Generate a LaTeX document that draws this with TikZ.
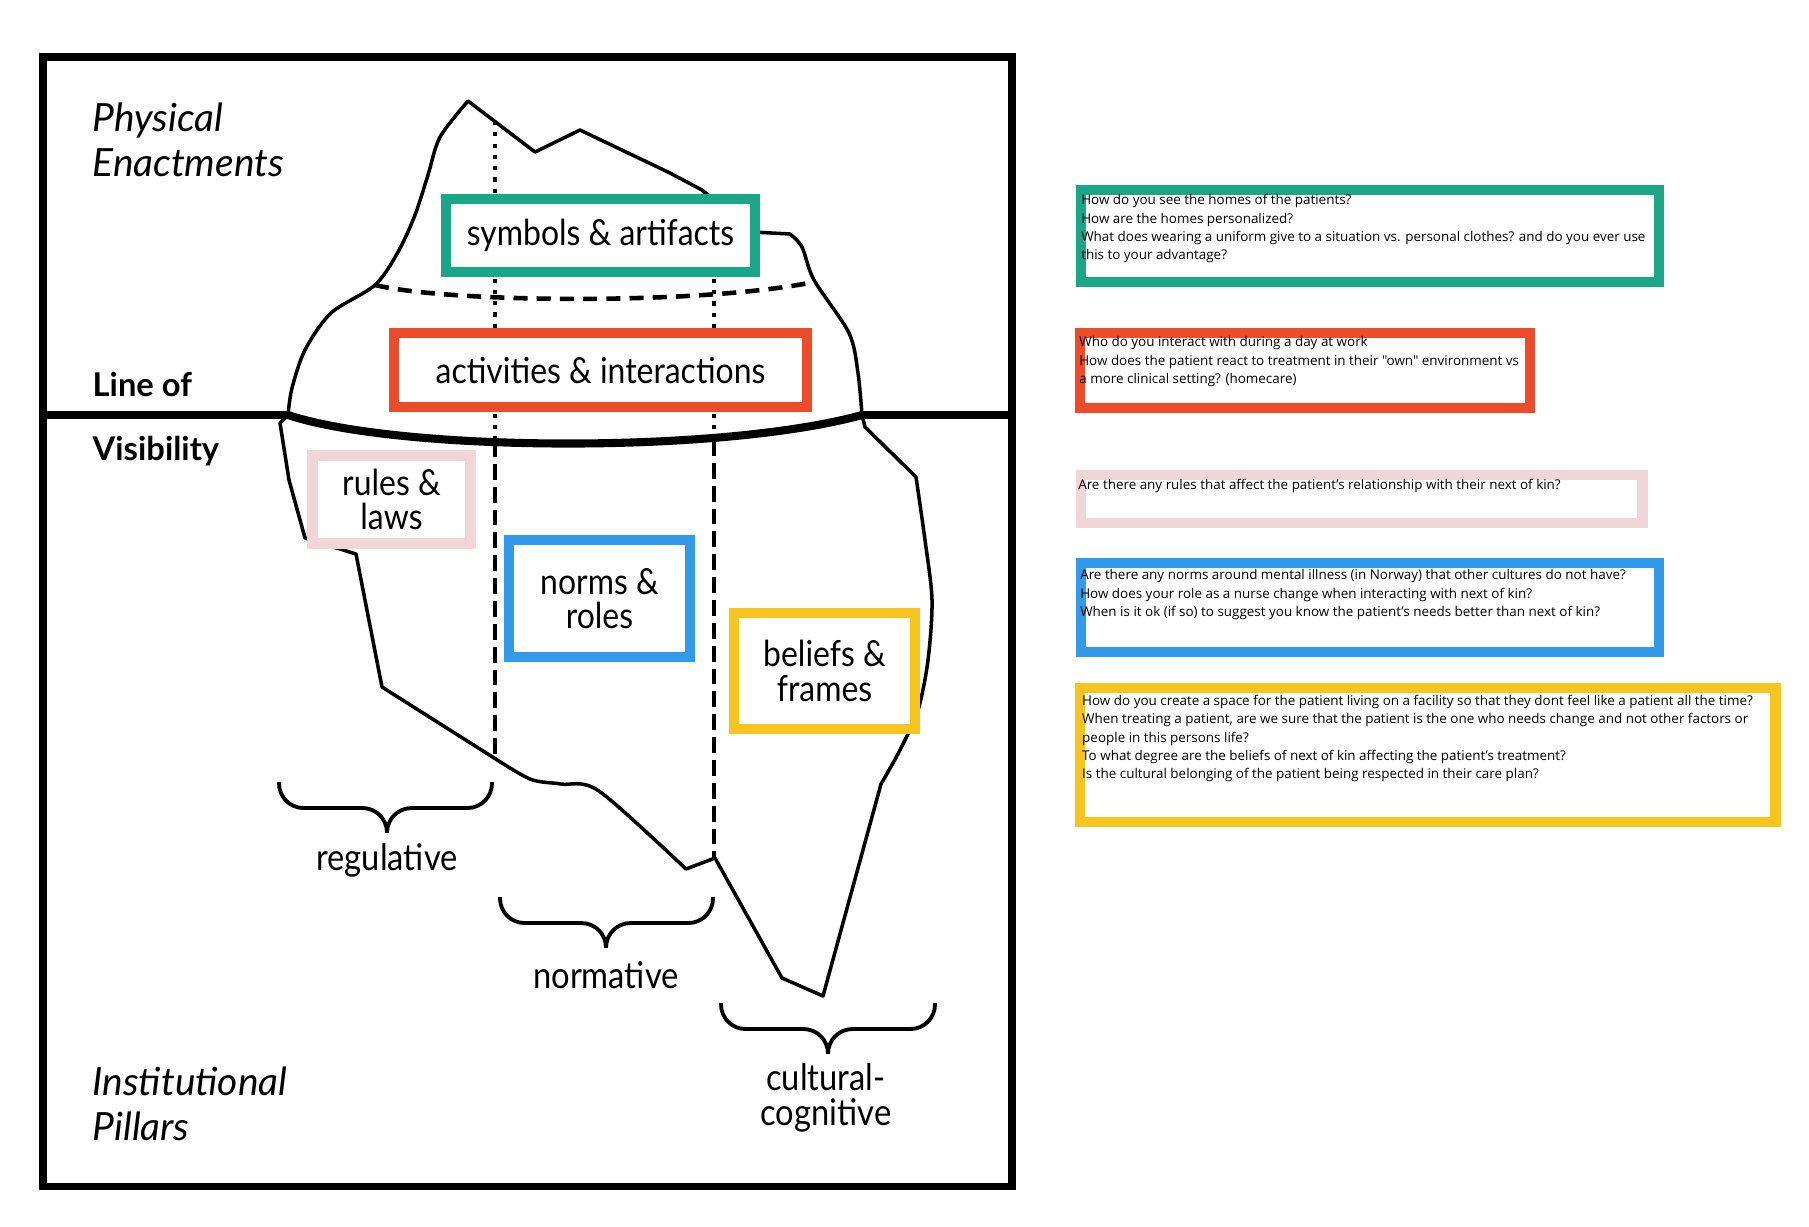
\documentclass[tikz,border=0pt]{standalone}
\usepackage{fontspec}
\usetikzlibrary{positioning}
\newfontfamily\diafont{Lato}
\newfontfamily\tagfont{Lato}[FakeStretch=0.89]
\newfontfamily\qfont{Open Sans}
\definecolor{symgreen}{RGB}{26,167,135}
\definecolor{actred}{RGB}{238,75,43}
\definecolor{rulepink}{RGB}{240,214,216}
\definecolor{normblue}{RGB}{49,154,234}
\definecolor{beliefyellow}{RGB}{248,196,30}

\begin{document}
\begin{tikzpicture}[x=0.01cm, y=-0.01cm,
  layer/.style={draw=#1, line width=3pt, fill=white, align=center, inner sep=0pt,
    font=\tagfont\fontsize{10.2}{9.8}\selectfont},
  qbox/.style={draw=#1, line width=3pt, inner sep=0pt},
  qtext/.style={anchor=north west, align=left, inner sep=0pt,
    font=\qfont\fontsize{3.82}{5.2}\selectfont},
  side/.style={anchor=west, align=left, inner sep=0pt,
    font=\diafont\itshape\fontsize{11.05}{12.8}\selectfont},
  pillar/.style={align=center, inner sep=0pt, font=\tagfont\fontsize{10.45}{9.9}\selectfont},
  bracket/.style={rounded corners=7pt, line width=1.1pt},
  outline/.style={line width=1pt, line join=round},
  dotline/.style={line width=1.2pt, dotted},
  dashline/.style={line width=1.3pt, dash pattern=on 4.5pt off 2pt}
]
\useasboundingbox (0,0) rectangle (1809,1226);

% frame and line of visibility
\draw[line width=2pt] (43,57) rectangle (1012,1186);
\draw[line width=2.3pt] (43,415) -- (288,415);
\draw[line width=2.3pt] (862,415) -- (1012,415);

% pillar dividers
\draw[dotline] (495,121) -- (495,441);
\draw[dashline] (495,441) -- (495,757);
\draw[dotline] (714,200) -- (714,440);
\draw[dashline] (714,440) -- (714,858);

% iceberg
\draw[outline] plot[smooth, tension=0.5] coordinates {(288,415) (292,388) (305,350) (331,313)
    (375,285) (398,252) (415,215) (428,175) (440,137) (468,101)}
  -- (535,152) -- (580,130) -- (670,173) -- (702,190) -- (753,232) -- (790,234)
  -- plot[smooth, tension=0.5] coordinates {(790,234) (802,247) (814,280) (849,333) (858,373) (862,415)};
\draw[outline] (862,415) -- (865,427) -- (916,477)
  -- plot[smooth, tension=0.5] coordinates {(916,477) (925,540) (932,600) (928,660) (918,710) (900,750) (881,784)}
  -- (823,996) -- (782,978) -- (715,858) -- (686,869)
  -- plot[smooth, tension=0.5] coordinates {(686,869) (599,791) (561,784) (530,779) (491,756)}
  -- (382,687) -- (356,554) -- (305,538) -- (289,480) -- (280,423) -- (288,415);
\draw[line width=2.3pt] (288,415) .. controls (400,452) and (720,454) .. (862,415);
\draw[line width=1.3pt, dash pattern=on 4pt off 2.6pt] (375,285) .. controls (450,303) and (700,305) .. (814,282);

% layers
\node[layer=symgreen, minimum width=3.09cm, minimum height=0.73cm] (symbols) at (600.5,235.5) {symbols \& artifacts};
\node[layer=actred, minimum width=4.13cm, minimum height=0.74cm] (activities) at (600.5,370) {activities \& interactions};
\node[layer=rulepink, minimum width=1.58cm, minimum height=0.88cm] (rules) at (391.5,499.5) {rules \&\\laws};
\node[layer=normblue, minimum width=1.81cm, minimum height=1.17cm] (norms) at (599.5,598.5) {norms \&\\roles};
\node[layer=beliefyellow, minimum width=1.81cm, minimum height=1.16cm] (beliefs) at (824.5,671) {beliefs \&\\frames};

% side labels
\node[side] (enactments) at (92,139.5) {Physical\\Enactments};
\node[side, font=\diafont\bfseries\fontsize{9.3}{18.4}\selectfont] (visibility) at (92,419) {Line of\\Visibility};
\node[side] (institutional) at (92,1104) {Institutional\\Pillars};

% pillars
\coordinate (regL) at (279,782);
\coordinate (regR) at (492,782);
\coordinate (regBar) at (387,808);
\coordinate (regTip) at (387,830);
\coordinate (norL) at (500,897);
\coordinate (norR) at (713,897);
\coordinate (norBar) at (606,923);
\coordinate (norTip) at (606,945);
\coordinate (culL) at (721,1003);
\coordinate (culR) at (935,1003);
\coordinate (culBar) at (828,1029);
\coordinate (culTip) at (828,1051);
\draw[bracket] (regL) |- (regBar) -- (regTip);
\draw[bracket] (regR) |- (regBar) -- (regTip);
\draw[bracket] (norL) |- (norBar) -- (norTip);
\draw[bracket] (norR) |- (norBar) -- (norTip);
\draw[bracket] (culL) |- (culBar) -- (culTip);
\draw[bracket] (culR) |- (culBar) -- (culTip);
\node[pillar] (regulative) at (387,860) {regulative};
\node[pillar] (normative) at (606,975) {normative};
\node[pillar] (cognitive) at (826,1098) {cultural-\\cognitive};

% questions
\node[qbox=symgreen, minimum width=5.78cm, minimum height=0.92cm] (qsymbols) at (1370,236) {};
\node[qtext] (qsymbolstext) at ([shift={(5,9.2)}]qsymbols.north west)
  {How do you see the homes of the patients?\\
   How are the homes personalized?\\
   What does wearing a uniform give to a situation vs. personal clothes? and do you ever use\\
   this to your advantage?};

\node[qbox=actred, minimum width=4.50cm, minimum height=0.75cm] (qactivities) at (1305,370.5) {};
\node[qtext] (qactivitiestext) at ([shift={(4,8.3)}]qactivities.north west)
  {Who do you interact with during a day at work\\
   How does the patient react to treatment in their "own" environment vs\\
   a more clinical setting? (homecare)};

\node[qbox=rulepink, minimum width=5.615cm, minimum height=0.48cm] (qrules) at (1361.75,499) {};
\node[qtext] (qrulestext) at ([shift={(2,8.9)}]qrules.north west)
  {Are there any rules that affect the patient’s relationship with their next of kin?};

\node[qbox=normblue, minimum width=5.78cm, minimum height=0.89cm] (qnorms) at (1370,607.5) {};
\node[qtext] (qnormstext) at ([shift={(4,11.2)}]qnorms.north west)
  {Are there any norms around mental illness (in Norway) that other cultures do not have?\\
   How does your role as a nurse change when interacting with next of kin?\\
   When is it ok (if so) to suggest you know the patient’s needs better than next of kin?};

\node[qbox=beliefyellow, minimum width=6.95cm, minimum height=1.34cm] (qbeliefs) at (1427.5,755) {};
\node[qtext] (qbeliefstext) at ([shift={(7,12)}]qbeliefs.north west)
  {How do you create a space for the patient living on a facility so that they dont feel like a patient all the time?\\
   When treating a patient, are we sure that the patient is the one who needs change and not other factors or\\
   people in this persons life?\\
   To what degree are the beliefs of next of kin affecting the patient’s treatment?\\
   Is the cultural belonging of the patient being respected in their care plan?};

\end{tikzpicture}
\end{document}
